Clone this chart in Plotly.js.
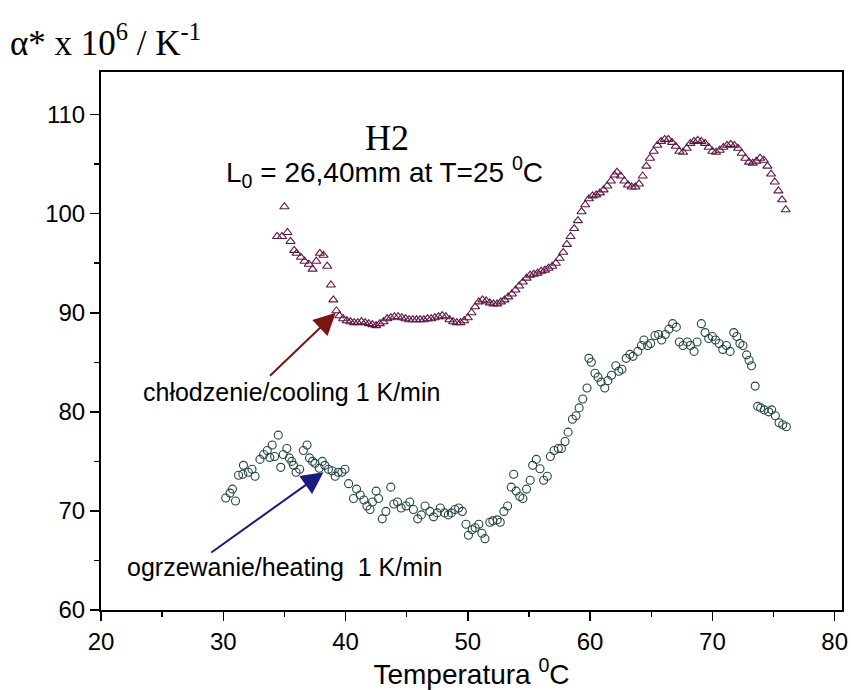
<!DOCTYPE html>
<html>
<head>
<meta charset="utf-8">
<script src="https://cdn.plot.ly/plotly-3.0.1.min.js"></script>
<style>html,body{margin:0;padding:0;background:#fff;}#chart{width:851px;height:690px;}</style>
</head>
<body>
<div id="chart"></div>
<script>
// Cooling (chłodzenie) – temperature [°C] and alpha*1e6 [1/K]
const coolT = [34.4,34.8,35.0,35.25,35.5,35.8,36.0,36.35,36.65,37.0,37.3,37.6,37.9,38.2,38.5,38.8,39.0,39.25,39.5,39.8,
  40.1,40.4,40.7,41.0,41.3,41.6,41.9,42.2,42.5,42.8,43.1,43.4,43.7,44.0,44.3,44.6,44.9,45.2,45.5,45.8,
  46.1,46.4,46.7,47.0,47.3,47.6,47.9,48.2,48.5,48.8,49.1,49.4,49.7,50.0,50.3,50.6,50.9,51.2,51.5,51.8,
  52.1,52.4,52.7,53.0,53.3,53.6,53.9,54.2,54.5,54.8,55.1,55.4,55.7,56.0,56.3,56.6,56.9,57.2,57.5,57.8,
  58.1,58.4,58.7,59.0,59.3,59.6,59.9,60.2,60.5,60.8,61.1,61.4,61.7,62.0,62.2,62.5,62.8,63.1,63.4,63.7,
  64.0,64.3,64.6,64.9,65.2,65.5,65.8,66.1,66.4,66.7,67.0,67.3,67.6,67.9,68.2,68.5,68.8,69.1,69.4,69.7,
  70.0,70.3,70.6,70.9,71.2,71.5,71.8,72.1,72.4,72.7,73.0,73.3,73.6,73.9,74.2,74.5,74.8,75.1,75.4,75.7,76.0];
const coolA = [97.7,97.7,100.7,98.1,97.2,96.3,96.0,95.6,95.2,94.9,94.4,95.2,96.0,95.8,94.7,92.8,91.3,90.2,89.7,89.4,
  89.2,89.1,89.0,89.0,89.1,89.0,88.9,88.8,88.7,88.9,89.1,89.4,89.5,89.6,89.6,89.5,89.4,89.3,89.3,89.3,
  89.3,89.3,89.4,89.4,89.5,89.6,89.7,89.6,89.3,89.1,89.0,89.0,89.2,89.5,90.0,90.6,91.1,91.3,91.2,91.0,
  90.9,90.9,91.1,91.3,91.6,91.9,92.3,92.7,93.1,93.5,93.8,93.9,94.0,94.2,94.3,94.5,94.7,95.0,95.5,96.1,
  96.9,97.7,98.5,99.3,100.2,100.9,101.5,101.8,101.9,102.1,102.4,102.8,103.3,103.9,104.2,103.8,103.3,102.9,102.7,102.7,
  103.0,103.8,104.8,105.6,106.3,106.9,107.3,107.5,107.5,107.2,106.8,106.3,106.2,106.6,107.1,107.3,107.4,107.3,107.1,106.7,
  106.3,106.2,106.4,106.7,106.9,107.0,106.9,106.6,106.1,105.6,105.2,105.1,105.3,105.6,105.4,104.8,104.0,103.2,102.3,101.4,100.4];

// Heating (ogrzewanie)
const heatT = [30.2,30.55,30.75,31.0,31.25,31.65,31.6,32.05,32.35,32.6,33.0,33.3,33.6,33.8,34.0,34.2,34.5,34.7,34.9,35.2,
  35.4,35.6,35.75,35.95,36.25,36.55,36.85,37.05,37.3,37.5,37.85,38.1,38.3,38.6,38.9,39.15,39.4,39.7,39.95,40.25,
  40.65,40.9,41.2,41.5,41.75,42.0,42.2,42.5,42.7,43.0,43.3,43.7,43.95,44.25,44.55,44.95,45.25,45.55,45.9,46.2,
  46.5,46.9,47.2,47.5,47.75,48.1,48.4,48.65,48.95,49.25,49.55,49.85,50.05,50.35,50.6,50.9,51.15,51.4,51.8,52.05,
  52.4,52.65,52.95,53.25,53.55,53.75,53.95,54.25,54.5,54.8,55.1,55.3,55.6,55.9,56.2,56.5,56.75,57.05,57.4,57.65,
  57.95,58.2,58.55,58.85,59.1,59.4,59.75,59.9,60.1,60.4,60.65,60.9,61.2,61.45,61.75,62.1,62.35,62.6,62.95,63.25,
  63.5,63.9,64.2,64.4,64.7,64.95,65.3,65.6,65.85,66.15,66.45,66.75,67.05,67.3,67.6,67.95,68.2,68.5,68.75,69.1,
  69.4,69.7,70.0,70.25,70.55,70.85,71.15,71.45,71.75,72.0,72.25,72.5,72.8,73.0,73.2,73.5,73.7,73.95,74.25,74.6,
  74.85,75.15,75.45,75.75,76.05];
const heatA = [71.3,71.8,72.2,71.0,73.6,74.6,73.7,73.9,74.2,73.5,75.2,75.7,76.1,75.4,76.65,75.5,77.65,74.4,75.7,76.3,
  75.35,75.0,74.6,73.9,74.2,76.1,76.65,75.35,75.0,74.8,74.3,75.0,74.6,74.2,74.05,73.5,73.9,73.9,74.2,72.75,
  71.25,72.2,71.6,71.1,70.5,70.15,70.9,72.0,71.25,69.2,69.95,72.4,70.7,70.9,70.3,70.5,70.9,70.15,69.2,69.6,
  70.5,69.95,69.4,69.8,70.3,69.8,69.6,69.8,70.15,70.3,69.95,68.65,67.55,68.1,68.3,68.65,67.75,67.2,68.85,69.0,
  69.1,68.85,69.95,70.5,72.4,73.7,72.0,71.45,71.25,72.2,73.1,74.6,75.2,74.25,73.1,73.5,75.5,76.1,76.3,76.3,
  77.0,77.95,79.25,79.6,80.4,81.3,82.4,85.4,85.0,83.9,83.5,83.0,82.4,83.15,83.7,84.65,84.1,84.3,85.4,85.8,
  85.6,86.1,86.7,87.25,86.7,86.9,87.7,87.8,87.25,87.8,88.35,88.9,88.55,87.05,86.7,87.05,86.7,86.1,87.05,88.9,
  88.0,87.4,87.6,87.25,86.9,86.3,86.7,86.1,88.0,87.6,86.9,86.7,85.75,85.2,84.65,82.6,80.55,80.4,80.2,80.0,
  80.2,79.6,78.9,78.7,78.5];

const xTickVals = [20,30,40,50,60,70,80];
const yTickVals = [60,70,80,90,100,110];

const traces = [
  {x: coolT, y: coolA, type: 'scatter', mode: 'markers', name: 'cooling',
   marker: {symbol: 'triangle-up-open', size: 8, color: '#5e1745', line: {width: 1.1, color: '#5e1745'}}},
  {x: heatT, y: heatA, type: 'scatter', mode: 'markers', name: 'heating',
   marker: {symbol: 'circle-open', size: 8, color: '#244444', line: {width: 1.1, color: '#244444'}}}
];

const sans = 'Liberation Sans, Arial, sans-serif';
const serif = 'Liberation Serif, Times New Roman, serif';

const layout = {
  width: 851, height: 690,
  margin: {l: 101, r: 9, t: 72, b: 80},
  paper_bgcolor: '#fff', plot_bgcolor: '#fff',
  showlegend: false,
  font: {family: sans, color: '#000', size: 22},
  xaxis: {
    range: [20, 80.6], tickvals: xTickVals, ticktext: xTickVals.map(String),
    showgrid: false, zeroline: false, showline: true, mirror: true, linecolor: '#000', linewidth: 2,
    ticks: 'outside', ticklen: 9, tickwidth: 1.5, tickcolor: '#000',
    minor: {dtick: 5, tick0: 20, ticks: 'outside', ticklen: 5, tickwidth: 1.5, tickcolor: '#000', showgrid: false},
    tickfont: {family: sans, size: 24, color: '#000'},
    title: {text: 'Temperatura <sup>0</sup>C', font: {family: sans, size: 28, color: '#000'}, standoff: 0}
  },
  yaxis: {
    range: [60, 114.3], tickvals: yTickVals, ticktext: yTickVals.map(String),
    showgrid: false, zeroline: false, showline: true, mirror: true, linecolor: '#000', linewidth: 2,
    ticks: 'outside', ticklen: 9, tickwidth: 1.5, tickcolor: '#000',
    minor: {dtick: 5, tick0: 60, ticks: 'outside', ticklen: 5, tickwidth: 1.5, tickcolor: '#000', showgrid: false},
    tickfont: {family: sans, size: 24, color: '#000'}
  },
  annotations: [
    {xref: 'paper', yref: 'paper', x: -0.126, y: 1.058, xanchor: 'left', yanchor: 'middle', showarrow: false,
     text: 'α* x 10<sup>6</sup> / K<sup>-1</sup>', font: {family: serif, size: 35, color: '#000'}},
    {xref: 'x', yref: 'y', x: 43.4, y: 107.6, showarrow: false, text: 'H2',
     font: {family: serif, size: 36, color: '#000'}},
    {xref: 'x', yref: 'y', x: 43.2, y: 104.2, showarrow: false,
     text: 'L<sub>0</sub> = 26,40mm at T=25 <sup>0</sup>C', font: {family: sans, size: 28, color: '#000'}},
    {xref: 'x', yref: 'y', x: 35.6, y: 82.0, showarrow: false,
     text: 'chłodzenie/cooling 1 K/min', font: {family: sans, size: 25, color: '#000'}},
    {xref: 'x', yref: 'y', x: 35.0, y: 64.3, showarrow: false,
     text: 'ogrzewanie/heating\u00A0 1 K/min', font: {family: sans, size: 25, color: '#000'}},
    {xref: 'x', yref: 'y', axref: 'x', ayref: 'y', x: 39.2, y: 90.0, ax: 33.7, ay: 83.5,
     showarrow: true, arrowhead: 2, arrowsize: 2.2, arrowwidth: 2, arrowcolor: '#7b1414', text: ''},
    {xref: 'x', yref: 'y', axref: 'x', ayref: 'y', x: 38.2, y: 73.9, ax: 28.9, ay: 65.7,
     showarrow: true, arrowhead: 2, arrowsize: 2.2, arrowwidth: 2, arrowcolor: '#1a1a80', text: ''}
  ]
};

Plotly.newPlot('chart', traces, layout, {displayModeBar: false, staticPlot: true});
</script>
</body>
</html>
